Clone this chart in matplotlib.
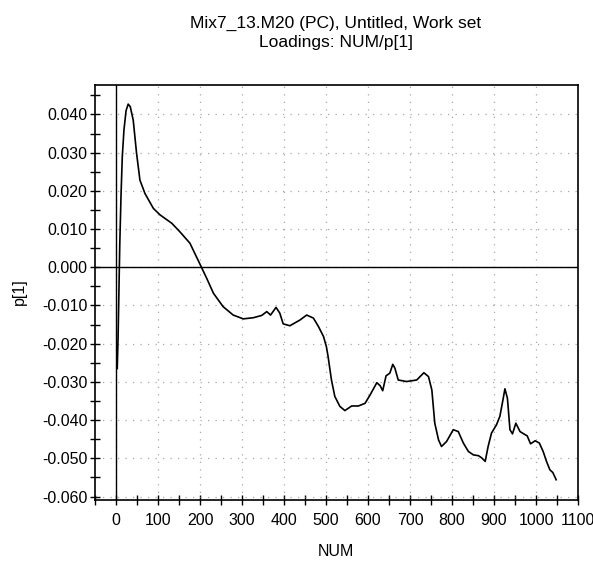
import matplotlib
matplotlib.use("Agg")
import matplotlib.pyplot as plt
from matplotlib.ticker import MultipleLocator, FormatStrFormatter

plt.rcParams['font.family'] = ['Liberation Sans', 'DejaVu Sans']

title_lines = ["Mix7_13.M20 (PC), Untitled, Work set", "Loadings: NUM/p[1]"]
x_label = "NUM"
y_label = "p[1]"

num = [3, 5, 7, 9, 12, 15, 19, 24, 29, 34, 41, 49, 57, 69, 89, 105, 133, 152, 176,
       200, 216, 232, 255, 279, 303, 327, 347, 359, 368, 381, 390, 398, 414, 438, 454,
       470, 482, 494, 501, 505, 513, 521, 533, 545, 561, 577, 593, 605, 621, 629, 635,
       643, 652, 659, 664, 672, 692, 716, 733, 744, 752, 759, 768, 775, 787, 803, 815,
       827, 839, 851, 863, 871, 879, 886, 894, 906, 914, 922, 926, 932, 938, 944, 952,
       962, 974, 979, 987, 998, 1008, 1017, 1025, 1033, 1040, 1048]
p1 = [-0.0265, -0.018, -0.006, 0.006, 0.019, 0.029, 0.036, 0.041, 0.0427, 0.042,
      0.0385, 0.0298, 0.0228, 0.0193, 0.0154, 0.0137, 0.0115, 0.0093, 0.0063,
      0.0008, -0.0029, -0.0068, -0.0103, -0.0125, -0.0135, -0.0132, -0.0126, -0.0116,
      -0.0125, -0.0105, -0.0120, -0.0148, -0.0153, -0.0138, -0.0125, -0.0133, -0.0155,
      -0.0181, -0.0208, -0.0234, -0.0295, -0.0338, -0.0364, -0.0375, -0.0363, -0.0363,
      -0.0356, -0.0334, -0.0302, -0.0310, -0.0323, -0.0284, -0.0277, -0.0254, -0.0264,
      -0.0295, -0.0299, -0.0295, -0.0276, -0.0286, -0.0321, -0.0408, -0.0452, -0.0469,
      -0.0456, -0.0425, -0.0430, -0.0460, -0.0482, -0.0491, -0.0493, -0.0499, -0.0508,
      -0.0469, -0.0434, -0.0412, -0.0390, -0.0343, -0.0318, -0.0343, -0.0425, -0.0436,
      -0.0408, -0.0430, -0.0438, -0.0441, -0.0462, -0.0454, -0.0460, -0.0482, -0.0508,
      -0.0530, -0.0537, -0.0556]

W, H = 593, 561
fig = plt.figure(figsize=(W / 100, H / 100), dpi=100)
ax = fig.add_axes([95 / W, 1 - 500 / H, (578 - 95) / W, (500 - 85) / H])

ax.plot(num, p1, color='black', lw=1.2)
ax.axhline(0, color='black', lw=1.0)
ax.axvline(0, color='black', lw=1.0)

ax.set_xlim(-50, 1100)
ax.set_ylim(-0.0609, 0.0477)
ax.xaxis.set_major_locator(MultipleLocator(100))
ax.xaxis.set_minor_locator(MultipleLocator(50))
ax.yaxis.set_major_locator(MultipleLocator(0.01))
ax.yaxis.set_minor_locator(MultipleLocator(0.005))
ax.yaxis.set_major_formatter(FormatStrFormatter('%.3f'))

ax.grid(True, which='major', color='#a8a8a8', linestyle=(0, (1, 5)), lw=0.9)
ax.tick_params(which='both', direction='inout', length=7, width=1.0, labelsize=11.5,
               colors='black')
ax.tick_params(axis='x', pad=6)
ax.tick_params(axis='y', pad=2)
for s in ax.spines.values():
    s.set_linewidth(1.2)

fig.text(336 / W, 1 - 551 / H, x_label, ha='center', va='center', fontsize=11.5)
fig.text(19 / W, 1 - 292 / H, y_label, ha='center', va='center', fontsize=11.5,
         rotation=90)

fig.text(336 / W, 1 - 23 / H, title_lines[0], ha='center', va='center', fontsize=12.5)
fig.text(336 / W, 1 - 42 / H, title_lines[1], ha='center', va='center', fontsize=12.5)

fig.savefig("out.png", dpi=100)
